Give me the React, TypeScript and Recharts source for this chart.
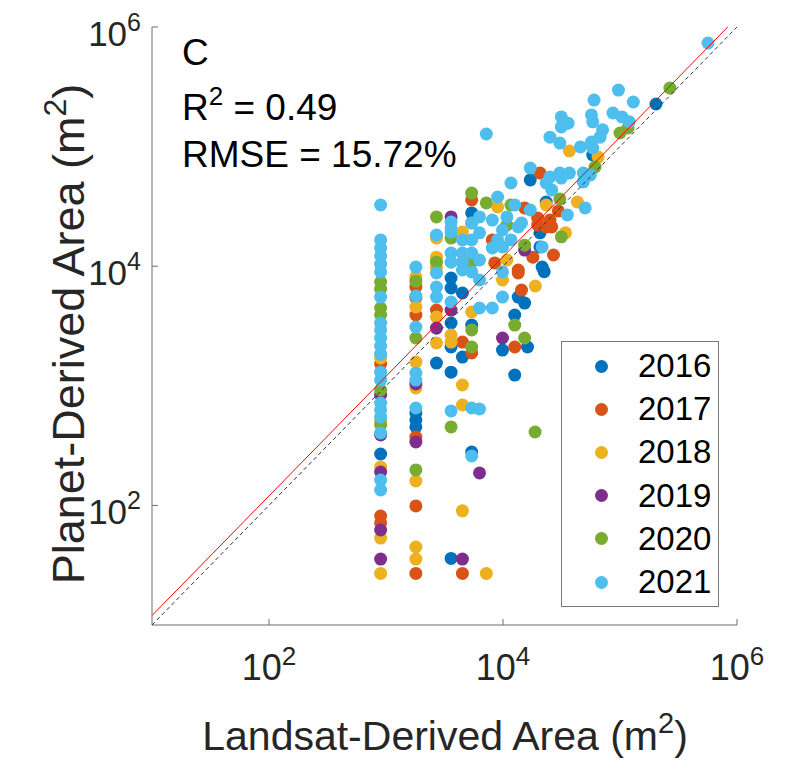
import React from 'react';
import { ScatterChart, Scatter, XAxis, YAxis, Legend } from 'recharts';

const FONT = '"Liberation Sans", Arial, Helvetica, sans-serif';
const AXIS = '#6e6e6e';
const TEXT = '#262626';

const years = ['2016', '2017', '2018', '2019', '2020', '2021'];
const colors = ['#0072BD', '#D95319', '#EDB120', '#7E2F8E', '#77AC30', '#4DBEEE'];
const tickValues = [100, 10000, 1000000];

// [Landsat-derived area, Planet-derived area] in m^2
const pts2016: number[][] = [
  [900, 269], [1800, 593], [1800, 518], [1800, 453], [2700, 1550], [3600, 7970], [3600, 6570],
  [3600, 3350], [3600, 2110], [3600, 1300], [3600, 36], [4500, 5970], [4500, 1740], [5400, 27900],
  [5400, 3220], [5400, 279], [17100, 52600], [23400, 34400], [20700, 19000], [20700, 14500],
  [21600, 9840], [22500, 9000], [15300, 4920], [13500, 5520], [12600, 3910], [16200, 2110],
  [9900, 1990], [12600, 1230], [58500, 85100], [203000, 227000],
];
const pts2017: number[][] = [
  [900, 1520], [900, 81.5], [900, 71.3], [1800, 6700], [1800, 5420], [1800, 3910], [1800, 373],
  [1800, 99], [1800, 27], [2700, 4300], [4500, 2320], [4500, 27], [5400, 35800], [5400, 1880],
  [20700, 60100], [8100, 16600], [8500, 10650], [13500, 9290], [18000, 11900], [19800, 22100],
  [19800, 25300], [26100, 21300], [23400, 21300], [25200, 24300], [29700, 29000], [27000, 12400],
  [14400, 6320], [13500, 8770], [12600, 2110], [15300, 30700],
];
const pts2018: number[][] = [
  [900, 1710], [900, 508], [900, 209], [900, 53.3], [900, 27], [1800, 8130], [1800, 4560],
  [1800, 1580], [1800, 959], [1800, 160], [1800, 44.9], [1800, 35.6], [2700, 17200], [2700, 11900],
  [2700, 9660], [2700, 3760], [2700, 2280], [3600, 2660], [3600, 2320], [4500, 19300], [4500, 1016],
  [4500, 691], [4500, 90], [7200, 27], [9000, 31300], [43200, 34400], [36900, 91900], [65000, 81800],
  [23400, 32500], [34200, 19000], [18900, 6830], [5400, 4140], [10800, 11270], [9900, 7670],
];
const pts2019: number[][] = [
  [900, 838], [900, 388], [900, 190], [900, 62.3], [900, 35.6], [1800, 1035], [1800, 339],
  [2700, 3040], [3600, 25800], [3600, 4300], [4500, 35.6], [6300, 187], [9900, 2510], [15300, 13650],
];
const pts2020: number[][] = [
  [900, 7380], [900, 6440], [900, 4470], [900, 3910], [900, 922], [900, 470], [1800, 7500],
  [1800, 2510], [1800, 198], [2700, 25800], [2700, 10800], [3600, 17200], [3600, 453], [5400, 40900],
  [5400, 23000], [5400, 10800], [5400, 2930], [5400, 2110], [7200, 33800], [11700, 32500],
  [30600, 36500], [31500, 17600], [15300, 15000], [12600, 3220], [15300, 2510], [61200, 67500],
  [100000, 130000], [117000, 143000], [267000, 309000], [18800, 411], [10800, 22100],
];
const pts2021: number[][] = [
  [900, 32500], [900, 16600], [900, 14200], [900, 12200], [900, 10400], [900, 8950], [900, 5520],
  [900, 3350], [900, 2930], [900, 2510], [900, 2150], [900, 1840], [900, 1300], [900, 1117],
  [900, 718], [900, 628], [900, 548], [900, 403], [900, 163], [900, 134.5],
  [1800, 9840], [1800, 5630], [1800, 3100], [1800, 1280], [1800, 1117], [1800, 652],
  [2700, 18200], [2700, 8770], [2700, 6700], [2700, 5520],
  [3600, 23400], [3600, 20900], [3600, 19300], [3600, 12900], [3600, 10800], [3600, 5020], [3600, 616],
  [4500, 16600], [4500, 12900], [4500, 10800], [4500, 9290],
  [5400, 23000], [5400, 16600], [5400, 12900], [5400, 8950], [5400, 652], [5400, 259],
  [6300, 25800], [6300, 19000], [6300, 11270], [6300, 7670], [6300, 4470], [6300, 640],
  [7200, 127500], [565000, 735000], [97000, 297000], [60000, 245000], [130000, 236000],
  [31500, 177000], [36000, 157000], [31500, 146000], [57000, 184000], [58500, 161000],
  [87000, 191000], [104000, 177000], [120000, 161000], [71000, 138000], [67500, 120000],
  [25200, 120000], [30600, 107000], [57000, 109000], [58500, 97300], [45900, 99300],
  [30600, 60100], [36900, 60100], [48600, 60100], [25200, 55700], [17100, 66200], [11700, 49600],
  [23400, 49600], [26100, 43400], [31500, 54600], [48600, 50600], [55800, 57900], [50400, 30700],
  [35500, 26800], [9000, 37900], [12600, 32500], [17100, 29500], [10800, 25800], [14400, 23000],
  [8100, 24300], [9900, 20100], [13500, 21300], [9000, 16600], [21600, 14500], [9900, 14500],
  [8100, 14200], [11700, 16600], [9900, 8950], [9900, 5520], [8100, 4470],
];
const seriesPoints = [pts2016, pts2017, pts2018, pts2019, pts2020, pts2021];

const identityLine = [[10, 10], [1000000, 1000000]];
const fitLine = [[10, 12], [833000, 1000000]];

const toObjs = (arr: number[][]) => arr.map(([x, y]) => ({ x, y }));

const XTick = (props: any) => {
  const { x, y, payload } = props;
  const exp = Math.round(Math.log10(payload.value));
  return (
    <g>
      <line x1={x} x2={x} y1={y} y2={y - 6} stroke={AXIS} strokeWidth={1} />
      <text x={x} y={y + 55} textAnchor="middle" fontSize={36} fill={TEXT} fontFamily={FONT}>
        10<tspan dy={-15} fontSize={26}>{exp}</tspan>
      </text>
    </g>
  );
};

const YTick = (props: any) => {
  const { x, y, payload } = props;
  const exp = Math.round(Math.log10(payload.value));
  return (
    <g>
      <line x1={x} x2={x + 6} y1={y} y2={y} stroke={AXIS} strokeWidth={1} />
      <text x={x - 11} y={y + 19} textAnchor="end" fontSize={35} fill={TEXT} fontFamily={FONT}>
        10<tspan dy={-15} fontSize={25}>{exp}</tspan>
      </text>
    </g>
  );
};

const XLabel = () => (
  <text x={445} y={750} textAnchor="middle" fontSize={41} fill={TEXT} fontFamily={FONT}>
    Landsat-Derived Area (m<tspan dy={-17} fontSize={29}>2</tspan><tspan dy={17}>)</tspan>
  </text>
);

const YLabel = () => (
  <g>
    <text
      x={84}
      y={334}
      transform="rotate(-90, 84, 334)"
      textAnchor="middle"
      fontSize={45}
      fill={TEXT}
      fontFamily={FONT}
    >
      Planet-Derived Area (m<tspan dy={-18} fontSize={32}>2</tspan><tspan dy={18}>)</tspan>
    </text>
    <g fontFamily={FONT} fontSize={37} fill="#000">
      <text x={182} y={65}>C</text>
      <text x={182} y={120}>
        R<tspan dy={-15} fontSize={26}>2</tspan><tspan dy={15}> = 0.49</tspan>
      </text>
      <text x={182} y={167}>RMSE = 15.72%</text>
    </g>
  </g>
);

const LegendBox = () => (
  <div
    style={{
      width: 158,
      height: 266,
      boxSizing: 'border-box',
      border: '1px solid #7a7a7a',
      background: '#fff',
      position: 'relative',
      fontFamily: FONT,
      fontSize: 33,
      color: '#000',
    }}
  >
    {years.map((yr, i) => (
      <div
        key={yr}
        style={{
          position: 'absolute',
          left: 0,
          top: 24 + i * 43.2 - 20,
          height: 40,
          width: 156,
        }}
      >
        <span
          style={{
            position: 'absolute',
            left: 33,
            top: 13.5,
            width: 13,
            height: 13,
            borderRadius: '50%',
            background: colors[i],
          }}
        />
        <span style={{ position: 'absolute', left: 76, lineHeight: '40px', top: 0 }}>{yr}</span>
      </div>
    ))}
  </div>
);

const dot = (color: string) => (props: any) => (
  <circle cx={props.cx} cy={props.cy} r={6.5} fill={color} />
);

export default function App() {
  return (
    <div style={{ position: 'absolute', left: 0, top: 0, background: '#fff' }}>
      <ScatterChart width={795} height={760} margin={{ top: 27, right: 58, left: 92, bottom: 75 }}>
        <XAxis
          type="number"
          dataKey="x"
          scale="log"
          domain={[10, 1000000]}
          ticks={tickValues}
          allowDataOverflow
          height={60}
          tickSize={0}
          tickMargin={0}
          tickLine={false}
          axisLine={{ stroke: AXIS, strokeWidth: 1 }}
          tick={<XTick />}
          interval={0}
          label={XLabel}
        />
        <YAxis
          type="number"
          dataKey="y"
          scale="log"
          domain={[10, 1000000]}
          ticks={tickValues}
          allowDataOverflow
          width={60}
          tickSize={0}
          tickMargin={0}
          tickLine={false}
          axisLine={{ stroke: AXIS, strokeWidth: 1 }}
          tick={<YTick />}
          interval={0}
          label={YLabel}
        />
        {seriesPoints.map((pts, i) => (
          <Scatter
            key={years[i]}
            name={years[i]}
            data={toObjs(pts)}
            fill={colors[i]}
            shape={dot(colors[i])}
            isAnimationActive={false}
          />
        ))}
        <Scatter
          name="identity"
          data={toObjs(identityLine)}
          line={{ stroke: '#333', strokeWidth: 1, strokeDasharray: '4 3' }}
          shape={() => <g />}
          isAnimationActive={false}
          legendType="none"
        />
        <Scatter
          name="fit"
          data={toObjs(fitLine)}
          line={{ stroke: '#FF0000', strokeWidth: 1 }}
          shape={() => <g />}
          isAnimationActive={false}
          legendType="none"
        />
        <Legend
          layout="vertical"
          align="center"
          verticalAlign="middle"
          wrapperStyle={{ left: 561, top: 341, width: 158, height: 266 }}
          content={LegendBox}
        />
      </ScatterChart>
    </div>
  );
}
